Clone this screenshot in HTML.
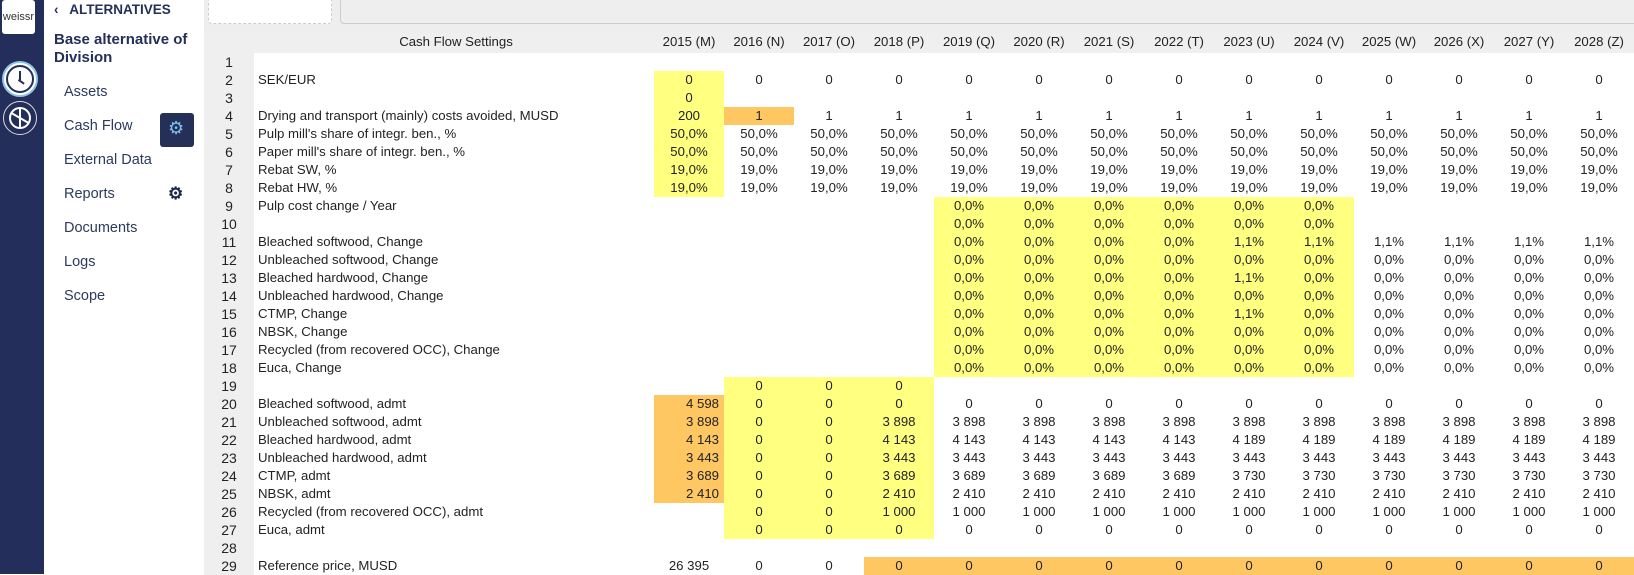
<!DOCTYPE html>
<html><head><meta charset="utf-8">
<style>
*{box-sizing:border-box;margin:0;padding:0}
body{width:1634px;height:574px;overflow:hidden;background:#fff;font-family:"Liberation Sans",sans-serif;color:#222;position:relative}
#side{position:absolute;left:0;top:0;width:44px;height:574px;background:#242e5a}
#logo{position:absolute;left:2px;top:0;width:33px;height:34px;background:#fff;border-radius:3px;font-size:11px;color:#333;text-align:center;line-height:34px}
.ic{position:absolute;border-radius:50%}
#panel{position:absolute;left:44px;top:0;width:160px;height:574px;background:#fff}
.alt{position:absolute;left:54px;top:2px;font-size:13.5px;font-weight:bold;color:#243058}
.ttl{position:absolute;left:54px;top:31px;font-size:15px;font-weight:bold;color:#243058;line-height:18px}
.mi{position:absolute;left:64px;font-size:14.5px;color:#2d3a5e}
#gearbox{position:absolute;left:160px;top:113px;width:34px;height:34px;background:#243058;border-radius:3px}
#top{position:absolute;left:204px;top:0;width:1430px;height:33px;background:#eee}
#tab1{position:absolute;left:208px;top:-3px;width:124px;height:27px;background:#fff;border:1px dashed #ccc;border-radius:4px}
#tab2{position:absolute;left:340px;top:-3px;width:1300px;height:27px;background:#eee;border:1px solid #ccc;border-radius:4px}
table{position:absolute;left:204px;top:33px;border-collapse:collapse;table-layout:fixed;width:1430px;font-size:13.2px}
td{height:18px;padding:0;text-align:center;white-space:nowrap;overflow:hidden;line-height:18px}
tr.h td{height:20px;background:#efefef;line-height:18px;vertical-align:top;padding-top:0}
td.n{background:#efefef;font-size:14px}
td.l{text-align:left;padding-left:4px}
.y{background:#ffff80}
.o{background:#fec762}
.r{text-align:right;padding-right:5px}
</style></head><body>
<div id="side">
<div id="logo">weissr</div>
<div class="ic" style="left:2px;top:61px;width:36px;height:36px;border:2px solid #8ec5ec;background:#fff"></div>
<div class="ic" style="left:6px;top:65px;width:28px;height:28px;border:2px solid #242e5a"></div>
<div style="position:absolute;left:19px;top:71px;width:2px;height:9px;background:#242e5a"></div>
<div style="position:absolute;left:19px;top:79px;width:7px;height:2px;background:#242e5a;transform:rotate(35deg);transform-origin:0 0"></div>
<div class="ic" style="left:3px;top:101px;width:34px;height:34px;border:1px solid #ddd"></div>
<div class="ic" style="left:9px;top:107px;width:22px;height:22px;border:2px solid #fff"></div>
<div style="position:absolute;left:19px;top:108px;width:2px;height:20px;background:#fff"></div>
<div style="position:absolute;left:10px;top:117px;width:20px;height:2px;background:#fff;transform:rotate(30deg)"></div>
</div>
<div id="panel"></div>
<div class="alt">&#8249;&nbsp;&nbsp; ALTERNATIVES</div>
<div class="ttl">Base alternative of<br>Division</div>
<div class="mi" style="top:84px">Assets</div>
<div class="mi" style="top:118px">Cash Flow</div>
<div id="gearbox"><div style="position:absolute;left:8px;top:5px;color:#7cc0ee;font-size:18px">&#9881;</div></div>
<div class="mi" style="top:152px">External Data</div>
<div class="mi" style="top:186px">Reports</div>
<div style="position:absolute;left:168px;top:184px;color:#1c2448;font-size:17px;font-weight:bold">&#9881;</div>
<div class="mi" style="top:220px">Documents</div>
<div class="mi" style="top:254px">Logs</div>
<div class="mi" style="top:288px">Scope</div>
<div id="top"></div><div id="tab1"></div><div id="tab2"></div>
<table>
<colgroup><col style="width:50px"><col style="width:400px"><col span="14" style="width:70px"></colgroup>
<tr class="h"><td></td><td style="padding-left:4px">Cash Flow Settings</td><td>2015 (M)</td><td>2016 (N)</td><td>2017 (O)</td><td>2018 (P)</td><td>2019 (Q)</td><td>2020 (R)</td><td>2021 (S)</td><td>2022 (T)</td><td>2023 (U)</td><td>2024 (V)</td><td>2025 (W)</td><td>2026 (X)</td><td>2027 (Y)</td><td>2028 (Z)</td></tr>
<tr><td class="n">1</td><td class="l"></td><td></td><td></td><td></td><td></td><td></td><td></td><td></td><td></td><td></td><td></td><td></td><td></td><td></td><td></td></tr>
<tr><td class="n">2</td><td class="l">SEK/EUR</td><td class="y">0</td><td>0</td><td>0</td><td>0</td><td>0</td><td>0</td><td>0</td><td>0</td><td>0</td><td>0</td><td>0</td><td>0</td><td>0</td><td>0</td></tr>
<tr><td class="n">3</td><td class="l"></td><td class="y">0</td><td></td><td></td><td></td><td></td><td></td><td></td><td></td><td></td><td></td><td></td><td></td><td></td><td></td></tr>
<tr><td class="n">4</td><td class="l">Drying and transport (mainly) costs avoided, MUSD</td><td class="y">200</td><td class="o">1</td><td>1</td><td>1</td><td>1</td><td>1</td><td>1</td><td>1</td><td>1</td><td>1</td><td>1</td><td>1</td><td>1</td><td>1</td></tr>
<tr><td class="n">5</td><td class="l">Pulp mill's share of integr. ben., %</td><td class="y">50,0%</td><td>50,0%</td><td>50,0%</td><td>50,0%</td><td>50,0%</td><td>50,0%</td><td>50,0%</td><td>50,0%</td><td>50,0%</td><td>50,0%</td><td>50,0%</td><td>50,0%</td><td>50,0%</td><td>50,0%</td></tr>
<tr><td class="n">6</td><td class="l">Paper mill's share of integr. ben., %</td><td class="y">50,0%</td><td>50,0%</td><td>50,0%</td><td>50,0%</td><td>50,0%</td><td>50,0%</td><td>50,0%</td><td>50,0%</td><td>50,0%</td><td>50,0%</td><td>50,0%</td><td>50,0%</td><td>50,0%</td><td>50,0%</td></tr>
<tr><td class="n">7</td><td class="l">Rebat SW, %</td><td class="y">19,0%</td><td>19,0%</td><td>19,0%</td><td>19,0%</td><td>19,0%</td><td>19,0%</td><td>19,0%</td><td>19,0%</td><td>19,0%</td><td>19,0%</td><td>19,0%</td><td>19,0%</td><td>19,0%</td><td>19,0%</td></tr>
<tr><td class="n">8</td><td class="l">Rebat HW, %</td><td class="y">19,0%</td><td>19,0%</td><td>19,0%</td><td>19,0%</td><td>19,0%</td><td>19,0%</td><td>19,0%</td><td>19,0%</td><td>19,0%</td><td>19,0%</td><td>19,0%</td><td>19,0%</td><td>19,0%</td><td>19,0%</td></tr>
<tr><td class="n">9</td><td class="l">Pulp cost change / Year</td><td></td><td></td><td></td><td></td><td class="y">0,0%</td><td class="y">0,0%</td><td class="y">0,0%</td><td class="y">0,0%</td><td class="y">0,0%</td><td class="y">0,0%</td><td></td><td></td><td></td><td></td></tr>
<tr><td class="n">10</td><td class="l"></td><td></td><td></td><td></td><td></td><td class="y">0,0%</td><td class="y">0,0%</td><td class="y">0,0%</td><td class="y">0,0%</td><td class="y">0,0%</td><td class="y">0,0%</td><td></td><td></td><td></td><td></td></tr>
<tr><td class="n">11</td><td class="l">Bleached softwood, Change</td><td></td><td></td><td></td><td></td><td class="y">0,0%</td><td class="y">0,0%</td><td class="y">0,0%</td><td class="y">0,0%</td><td class="y">1,1%</td><td class="y">1,1%</td><td>1,1%</td><td>1,1%</td><td>1,1%</td><td>1,1%</td></tr>
<tr><td class="n">12</td><td class="l">Unbleached softwood, Change</td><td></td><td></td><td></td><td></td><td class="y">0,0%</td><td class="y">0,0%</td><td class="y">0,0%</td><td class="y">0,0%</td><td class="y">0,0%</td><td class="y">0,0%</td><td>0,0%</td><td>0,0%</td><td>0,0%</td><td>0,0%</td></tr>
<tr><td class="n">13</td><td class="l">Bleached hardwood, Change</td><td></td><td></td><td></td><td></td><td class="y">0,0%</td><td class="y">0,0%</td><td class="y">0,0%</td><td class="y">0,0%</td><td class="y">1,1%</td><td class="y">0,0%</td><td>0,0%</td><td>0,0%</td><td>0,0%</td><td>0,0%</td></tr>
<tr><td class="n">14</td><td class="l">Unbleached hardwood, Change</td><td></td><td></td><td></td><td></td><td class="y">0,0%</td><td class="y">0,0%</td><td class="y">0,0%</td><td class="y">0,0%</td><td class="y">0,0%</td><td class="y">0,0%</td><td>0,0%</td><td>0,0%</td><td>0,0%</td><td>0,0%</td></tr>
<tr><td class="n">15</td><td class="l">CTMP, Change</td><td></td><td></td><td></td><td></td><td class="y">0,0%</td><td class="y">0,0%</td><td class="y">0,0%</td><td class="y">0,0%</td><td class="y">1,1%</td><td class="y">0,0%</td><td>0,0%</td><td>0,0%</td><td>0,0%</td><td>0,0%</td></tr>
<tr><td class="n">16</td><td class="l">NBSK, Change</td><td></td><td></td><td></td><td></td><td class="y">0,0%</td><td class="y">0,0%</td><td class="y">0,0%</td><td class="y">0,0%</td><td class="y">0,0%</td><td class="y">0,0%</td><td>0,0%</td><td>0,0%</td><td>0,0%</td><td>0,0%</td></tr>
<tr><td class="n">17</td><td class="l">Recycled (from recovered OCC), Change</td><td></td><td></td><td></td><td></td><td class="y">0,0%</td><td class="y">0,0%</td><td class="y">0,0%</td><td class="y">0,0%</td><td class="y">0,0%</td><td class="y">0,0%</td><td>0,0%</td><td>0,0%</td><td>0,0%</td><td>0,0%</td></tr>
<tr><td class="n">18</td><td class="l">Euca, Change</td><td></td><td></td><td></td><td></td><td class="y">0,0%</td><td class="y">0,0%</td><td class="y">0,0%</td><td class="y">0,0%</td><td class="y">0,0%</td><td class="y">0,0%</td><td>0,0%</td><td>0,0%</td><td>0,0%</td><td>0,0%</td></tr>
<tr><td class="n">19</td><td class="l"></td><td></td><td class="y">0</td><td class="y">0</td><td class="y">0</td><td></td><td></td><td></td><td></td><td></td><td></td><td></td><td></td><td></td><td></td></tr>
<tr><td class="n">20</td><td class="l">Bleached softwood, admt</td><td class="o r">4 598</td><td class="y">0</td><td class="y">0</td><td class="y">0</td><td>0</td><td>0</td><td>0</td><td>0</td><td>0</td><td>0</td><td>0</td><td>0</td><td>0</td><td>0</td></tr>
<tr><td class="n">21</td><td class="l">Unbleached softwood, admt</td><td class="o r">3 898</td><td class="y">0</td><td class="y">0</td><td class="y">3 898</td><td>3 898</td><td>3 898</td><td>3 898</td><td>3 898</td><td>3 898</td><td>3 898</td><td>3 898</td><td>3 898</td><td>3 898</td><td>3 898</td></tr>
<tr><td class="n">22</td><td class="l">Bleached hardwood, admt</td><td class="o r">4 143</td><td class="y">0</td><td class="y">0</td><td class="y">4 143</td><td>4 143</td><td>4 143</td><td>4 143</td><td>4 143</td><td>4 189</td><td>4 189</td><td>4 189</td><td>4 189</td><td>4 189</td><td>4 189</td></tr>
<tr><td class="n">23</td><td class="l">Unbleached hardwood, admt</td><td class="o r">3 443</td><td class="y">0</td><td class="y">0</td><td class="y">3 443</td><td>3 443</td><td>3 443</td><td>3 443</td><td>3 443</td><td>3 443</td><td>3 443</td><td>3 443</td><td>3 443</td><td>3 443</td><td>3 443</td></tr>
<tr><td class="n">24</td><td class="l">CTMP, admt</td><td class="o r">3 689</td><td class="y">0</td><td class="y">0</td><td class="y">3 689</td><td>3 689</td><td>3 689</td><td>3 689</td><td>3 689</td><td>3 730</td><td>3 730</td><td>3 730</td><td>3 730</td><td>3 730</td><td>3 730</td></tr>
<tr><td class="n">25</td><td class="l">NBSK, admt</td><td class="o r">2 410</td><td class="y">0</td><td class="y">0</td><td class="y">2 410</td><td>2 410</td><td>2 410</td><td>2 410</td><td>2 410</td><td>2 410</td><td>2 410</td><td>2 410</td><td>2 410</td><td>2 410</td><td>2 410</td></tr>
<tr><td class="n">26</td><td class="l">Recycled (from recovered OCC), admt</td><td></td><td class="y">0</td><td class="y">0</td><td class="y">1 000</td><td>1 000</td><td>1 000</td><td>1 000</td><td>1 000</td><td>1 000</td><td>1 000</td><td>1 000</td><td>1 000</td><td>1 000</td><td>1 000</td></tr>
<tr><td class="n">27</td><td class="l">Euca, admt</td><td></td><td class="y">0</td><td class="y">0</td><td class="y">0</td><td>0</td><td>0</td><td>0</td><td>0</td><td>0</td><td>0</td><td>0</td><td>0</td><td>0</td><td>0</td></tr>
<tr><td class="n">28</td><td class="l"></td><td></td><td></td><td></td><td></td><td></td><td></td><td></td><td></td><td></td><td></td><td></td><td></td><td></td><td></td></tr>
<tr><td class="n">29</td><td class="l">Reference price, MUSD</td><td>26 395</td><td>0</td><td>0</td><td class="o">0</td><td class="o">0</td><td class="o">0</td><td class="o">0</td><td class="o">0</td><td class="o">0</td><td class="o">0</td><td class="o">0</td><td class="o">0</td><td class="o">0</td><td class="o">0</td></tr>
</table>
</body></html>
